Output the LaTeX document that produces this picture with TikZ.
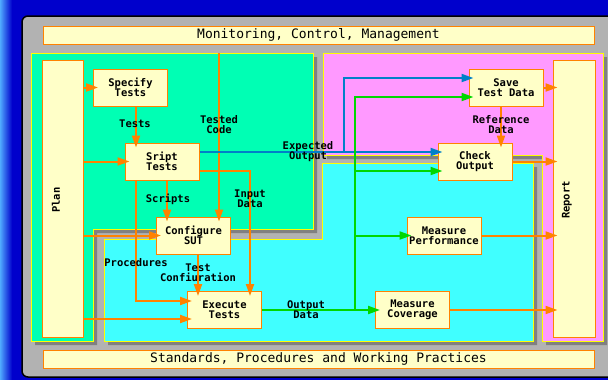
\documentclass[tikz,border=0pt]{standalone}
\usepackage{fontspec}
\setmonofont{DejaVu Sans Mono}
\usetikzlibrary{arrows.meta}
\definecolor{bgblue}{RGB}{0,0,204}
\definecolor{skyblue}{RGB}{80,170,255}
\definecolor{panelgray}{RGB}{178,178,178}
\definecolor{shadowgray}{RGB}{128,128,128}
\definecolor{regionedge}{RGB}{255,255,0}
\definecolor{designgreen}{RGB}{0,255,180}
\definecolor{runcyan}{RGB}{64,255,255}
\definecolor{resultpink}{RGB}{255,153,255}
\definecolor{boxfill}{RGB}{255,255,200}
\definecolor{floworange}{RGB}{255,130,0}
\definecolor{flowblue}{RGB}{0,128,200}
\definecolor{flowgreen}{RGB}{0,215,0}
\newcommand{\boxfont}{\ttfamily\bfseries\fontsize{10.5}{10}\selectfont}
\newcommand{\barfont}{\ttfamily\fontsize{13}{14}\selectfont}
\tikzstyle{region}=[draw=regionedge, line width=1pt]
\tikzstyle{bar}=[draw=floworange, fill=boxfill, line width=1pt, inner sep=0]
\tikzstyle{task}=[bar, minimum width=74pt, minimum height=37pt, align=center, font=\boxfont]
\tikzstyle{flowtext}=[inner sep=0, align=center, font=\boxfont]
\tikzstyle{flow}=[draw=floworange, line width=2pt, -{Triangle[length=12pt, width=8pt]}, shorten >=-5pt]
\tikzstyle{expflow}=[flow, draw=flowblue, -{Triangle[length=12pt, width=8pt, fill=flowblue]}]
\tikzstyle{outflow}=[flow, draw=flowgreen, -{Triangle[length=12pt, width=8pt, fill=flowgreen]}]
\begin{document}
\begin{tikzpicture}[x=1pt, y=-1pt]
        \useasboundingbox (0, 0) rectangle (608, 380);
        \fill[bgblue] (0, 0) rectangle (608, 380);
        \shade[left color=skyblue, right color=bgblue] (0, 0) rectangle (12, 380);
        \draw[fill=panelgray, line width=1.5pt, rounded corners=6pt] (22, 16) rectangle (620, 377);
        % shadows of the three areas
        \fill[shadowgray, shift={(4, 4)}] (31, 53) -- (313, 53) -- (313, 229) -- (93, 229) -- (93, 341) -- (31, 341) -- cycle;
        \fill[shadowgray, shift={(4, 4)}] (323, 53) -- (603, 53) -- (603, 341) -- (542, 341) -- (542, 155) -- (323, 155) -- cycle;
        \fill[shadowgray, shift={(4, 4)}] (104, 239) -- (322, 239) -- (322, 163) -- (533, 163) -- (533, 341) -- (104, 341) -- cycle;
        \draw[region, fill=designgreen] (31, 53) -- (313, 53) -- (313, 229) -- (93, 229) -- (93, 341) -- (31, 341) -- cycle;
        \draw[region, fill=resultpink] (323, 53) -- (603, 53) -- (603, 341) -- (542, 341) -- (542, 155) -- (323, 155) -- cycle;
        \draw[region, fill=runcyan] (104, 239) -- (322, 239) -- (322, 163) -- (533, 163) -- (533, 341) -- (104, 341) -- cycle;
        \node[bar, minimum width=551pt, minimum height=18pt, font=\barfont] (monitor)   at (318.5, 35)  {Monitoring, Control, Management};
        \node[bar, minimum width=551pt, minimum height=18pt, font=\barfont] (standards) at (318.5, 359) {Standards, Procedures and Working Practices};
        \node[bar, minimum width=41pt, minimum height=277pt] (plan)   at (62.5, 198.5) {};
        \node[bar, minimum width=42pt, minimum height=277pt] (report) at (574, 198.5)  {};
        \node[flowtext, rotate=90] (plantext)   at (56, 200)  {Plan};
        \node[flowtext, rotate=90] (reporttext) at (567, 200) {Report};
        \node[task] (spec)  at (130.5, 87.5)  {Specify\\Tests};
        \node[task] (sript) at (162, 161.5)   {Sript\\Tests};
        \node[task] (conf)  at (193.5, 235.5) {Configure\\SUT};
        \node[task] (exec)  at (224.5, 310)   {Execute\\Tests};
        \node[task] (save)  at (506, 87.5)    {Save\\Test Data};
        \node[task] (check) at (475, 161.5)   {Check\\Output};
        \node[task] (perf)  at (444, 235.5)   {Measure\\Performance};
        \node[task] (cov)   at (412.5, 310)   {Measure\\Coverage};
        \coordinate (codetop)  at (219, 53);
        \coordinate (testsx)   at (136, 0);
        \coordinate (scriptsx) at (167, 0);
        \coordinate (configx)  at (198, 0);
        \coordinate (inputx)   at (250, 0);
        \coordinate (expx)     at (344, 0);
        \coordinate (outx)     at (355, 0);
        \coordinate (refx)     at (501, 0);
        \coordinate (savehi)   at (0, 78);
        \coordinate (savelo)   at (0, 97);
        \coordinate (exphi)    at (0, 152);
        \coordinate (checklo)  at (0, 171);
        \coordinate (procy)    at (0, 301);
        \coordinate (planlow)  at (0, 319);
        \draw[flow] (plan.east |- spec.west) -- (spec.west);
        \draw[flow] (plan.east |- sript.west) -- (sript.west);
        \draw[flow] (plan.east |- conf.west) -- (conf.west);
        \draw[flow] (plan.east |- planlow) -- (exec.west |- planlow);
        \draw[flow] (spec.south -| testsx) -- (sript.north -| testsx);
        \draw[flow] (codetop) -- (conf.north -| codetop);
        \draw[flow] (sript.south -| scriptsx) -- (conf.north -| scriptsx);
        \draw[flow] (sript.south -| testsx) -- (testsx |- procy) -- (exec.west |- procy);
        \draw[flow] (sript.east |- checklo) -- (inputx |- checklo) -- (exec.north -| inputx);
        \draw[flow] (conf.south -| configx) -- (exec.north -| configx);
        \draw[expflow] (sript.east |- exphi) -- (check.west |- exphi);
        \draw[expflow] (expx |- exphi) -- (expx |- savehi) -- (save.west |- savehi);
        \draw[outflow] (exec.east) -- (cov.west);
        \draw[outflow] (outx |- exec.east) -- (outx |- savelo) -- (save.west |- savelo);
        \draw[outflow] (outx |- checklo) -- (check.west |- checklo);
        \draw[outflow] (outx |- perf.west) -- (perf.west);
        \draw[flow] (save.south -| refx) -- (check.north -| refx);
        \draw[flow] (save.east) -- (report.west |- save.east);
        \draw[flow] (check.east) -- (report.west |- check.east);
        \draw[flow] (perf.east) -- (report.west |- perf.east);
        \draw[flow] (cov.east) -- (report.west |- cov.east);
        \node[flowtext] (teststext)     at (135, 124)   {Tests};
        \node[flowtext] (codetext)      at (219, 124.5) {Tested\\Code};
        \node[flowtext] (expectedtext)  at (308, 152)   {Expected\\Output};
        \node[flowtext] (scriptstext)   at (168, 199)   {Scripts};
        \node[flowtext] (inputtext)     at (250, 199)   {Input\\Data};
        \node[flowtext] (procedtext)    at (136, 263)   {Procedures};
        \node[flowtext] (configtext)    at (198, 272.5) {Test\\Confiuration};
        \node[flowtext] (outputtext)    at (306, 310)   {Output\\Data};
        \node[flowtext] (referencetext) at (501, 124.5) {Reference\\Data};
    \end{tikzpicture}
\end{document}
